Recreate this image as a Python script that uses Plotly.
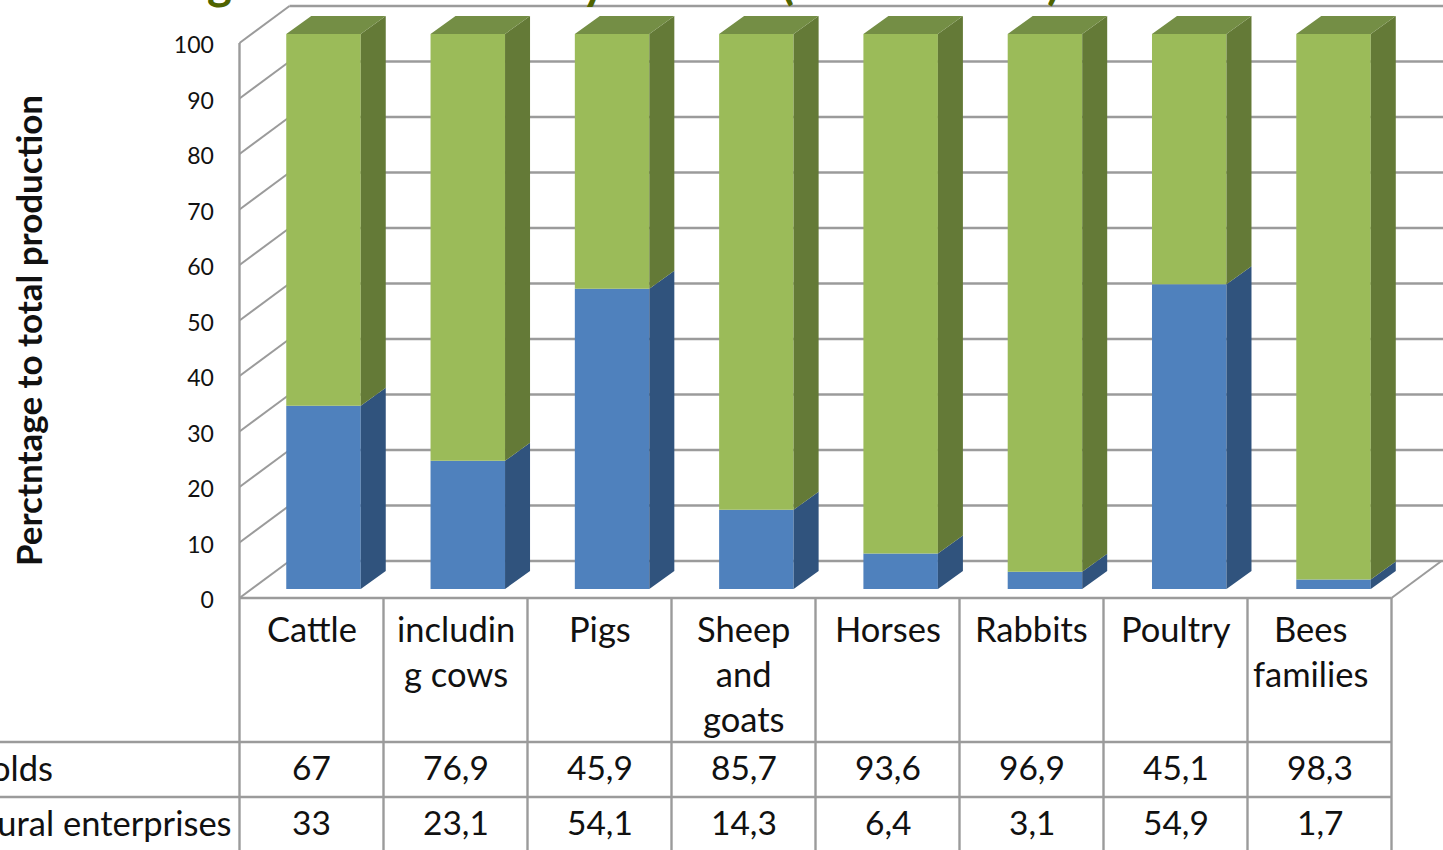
import plotly.graph_objects as go

categories = ["Cattle", "includin<br>g cows", "Pigs", "Sheep<br>and<br>goats", "Horses", "Rabbits", "Poultry", "Bees<br>families"]
households = [67, 76.9, 45.9, 85.7, 93.6, 96.9, 45.1, 98.3]
enterprises = [33, 23.1, 54.1, 14.3, 6.4, 3.1, 54.9, 1.7]
household_labels = ["67", "76,9", "45,9", "85,7", "93,6", "96,9", "45,1", "98,3"]
enterprise_labels = ["33", "23,1", "54,1", "14,3", "6,4", "3,1", "54,9", "1,7"]
ticks = [0, 10, 20, 30, 40, 50, 60, 70, 80, 90, 100]
row_names = ["Households", "Agricultural enterprises"]
title_text = "Agricultural industry sectors (at end 2013)"
y_title = "Perctntage to total production"

W, H = 1443, 850
PX_X, PX_Y = 144.0, 5.55          # pixels per category / per percent
X0_PX, Y0_PX = 239.5, 598.0       # pixel of the table's corner (x=0, y=0)
FONT = "Lato"
GRID = "#9B9B9B"
INK = "#111111"

# oblique projection offsets, in axis units
WALL_DX, WALL_DY = 50 / PX_X, 37 / PX_Y
BAR_X0, BAR_PITCH, BAR_W = 84 / PX_X, 144.29 / PX_X, 74.5 / PX_X
BAR_Y0 = 9 / PX_Y
DEPTH_DX, DEPTH_DY = 25 / PX_X, 18 / PX_Y

x_range = [-X0_PX / PX_X, (W - X0_PX) / PX_X]
y_range = [(Y0_PX - H) / PX_Y, Y0_PX / PX_Y]

centers = [BAR_X0 + i * BAR_PITCH for i in range(len(categories))]
rights = [c + BAR_W / 2 for c in centers]
lefts = [c - BAR_W / 2 for c in centers]


def side_polys(lows, highs):
    xs, ys = [], []
    for r, lo, hi in zip(rights, lows, highs):
        xs += [r, r + DEPTH_DX, r + DEPTH_DX, r, r, None]
        ys += [lo, lo + DEPTH_DY, hi + DEPTH_DY, hi, lo, None]
    return xs, ys


fig = go.Figure()

blue_lo = [BAR_Y0] * len(categories)
blue_hi = [BAR_Y0 + v for v in enterprises]
green_hi = [b + v for b, v in zip(blue_hi, households)]

for lows, highs, color in [(blue_lo, blue_hi, "#30537D"), (blue_hi, green_hi, "#647A37")]:
    xs, ys = side_polys(lows, highs)
    fig.add_trace(go.Scatter(x=xs, y=ys, mode="lines", fill="toself", fillcolor=color,
                             line=dict(width=0, color=color), hoverinfo="skip", showlegend=False))

top_x, top_y = [], []
for l, r, h in zip(lefts, rights, green_hi):
    top_x += [l, r, r + DEPTH_DX, l + DEPTH_DX, l, None]
    top_y += [h, h, h + DEPTH_DY, h + DEPTH_DY, h, None]
fig.add_trace(go.Scatter(x=top_x, y=top_y, mode="lines", fill="toself", fillcolor="#748E45",
                         line=dict(width=0, color="#748E45"), hoverinfo="skip", showlegend=False))

fig.add_trace(go.Bar(x=centers, y=enterprises, base=blue_lo, width=BAR_W, name=row_names[1],
                     marker=dict(color="#4F81BD", line=dict(width=0)), hoverinfo="skip", showlegend=False))
fig.add_trace(go.Bar(x=centers, y=households, base=blue_hi, width=BAR_W, name=row_names[0],
                     marker=dict(color="#9BBB59", line=dict(width=0)), hoverinfo="skip", showlegend=False))

shapes = []


def seg(x0, y0, x1, y1, width=2.4, color=GRID):
    shapes.append(dict(type="line", xref="x", yref="y", x0=x0, y0=y0, x1=x1, y1=y1,
                       line=dict(color=color, width=width), layer="below"))


for t in ticks:
    seg(WALL_DX, t + WALL_DY, x_range[1], t + WALL_DY)
    seg(0, t, WALL_DX, t + WALL_DY, 2.0)
n = len(categories)
seg(n, 0, n + WALL_DX, WALL_DY, 2.0)
seg(0, 0, 0, 100)

# data table grid
rule_1, rule_2 = -144 / PX_Y, -199 / PX_Y
seg(0, 0, n, 0)
seg(x_range[0], rule_1, n, rule_1)
seg(x_range[0], rule_2, n, rule_2)
for k in range(n + 1):
    seg(k, 0, k, y_range[0])

ann = []
for i, cat in enumerate(categories):
    ann.append(dict(x=i + 0.5, y=-8 / PX_Y, text=cat, yanchor="top", xanchor="center", showarrow=False,
                    xshift=-9 if i == n - 1 else 0,
                    font=dict(family=FONT, size=34.5, color=INK)))
    ann.append(dict(x=i + 0.5, y=-169 / PX_Y, text=household_labels[i], yanchor="middle", showarrow=False,
                    font=dict(family=FONT, size=33.5, color=INK)))
    ann.append(dict(x=i + 0.5, y=-224 / PX_Y, text=enterprise_labels[i], yanchor="middle", showarrow=False,
                    font=dict(family=FONT, size=33.5, color=INK)))
ann.append(dict(x=(55 - X0_PX) / PX_X, y=-169 / PX_Y, text=row_names[0], xanchor="right", yanchor="middle",
                showarrow=False, font=dict(family=FONT, size=34.5, color=INK)))
ann.append(dict(x=(234 - X0_PX) / PX_X, y=-224 / PX_Y, text=row_names[1], xanchor="right", yanchor="middle",
                showarrow=False, font=dict(family=FONT, size=34.5, color=INK)))
ann.append(dict(x=28 / W, y=1 - 331 / H, xref="paper", yref="paper", text=y_title, textangle=-90,
                showarrow=False, xanchor="center", yanchor="middle",
                font=dict(family=FONT, size=35, color=INK, weight="bold")))
ann.append(dict(x=171 / W, y=1, xref="paper", yref="paper", text=title_text, xanchor="left", yanchor="bottom",
                yshift=-11, showarrow=False, font=dict(family=FONT, size=47.5, color="#4F6300", weight="bold")))

fig.update_layout(
    width=W, height=H, margin=dict(l=0, r=0, t=0, b=0), autosize=False,
    paper_bgcolor="white", plot_bgcolor="white", barmode="overlay", showlegend=False,
    shapes=shapes, annotations=ann, hovermode=False,
    xaxis=dict(range=x_range, visible=False, fixedrange=True, domain=[0, 1]),
    yaxis=dict(range=y_range, fixedrange=True, domain=[0, 1], anchor="free", position=X0_PX / W,
               tickmode="array", tickvals=ticks, ticktext=[str(t) for t in ticks],
               showgrid=False, zeroline=False, showline=False, ticks="outside", ticklen=21,
               ticklabelshift=2,
               tickcolor="rgba(0,0,0,0)", tickfont=dict(family=FONT, size=23, color=INK)),
)

fig.write_html("out.html", config=dict(displayModeBar=False),
               post_script="document.body.style.margin='0';document.documentElement.style.overflow='hidden';")
